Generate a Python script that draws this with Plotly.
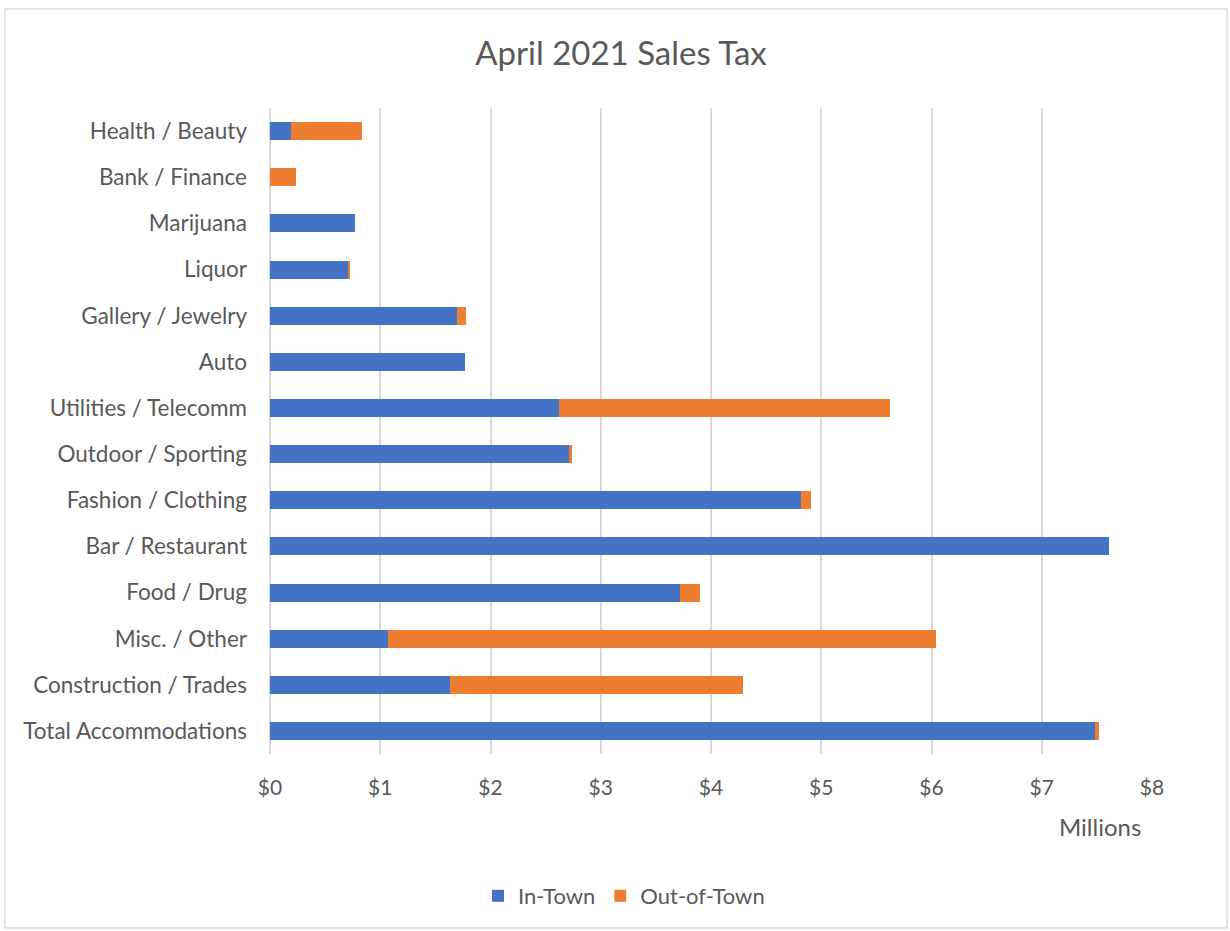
import plotly.graph_objects as go

categories = ["Health / Beauty", "Bank / Finance", "Marijuana", "Liquor", "Gallery / Jewelry",
              "Auto", "Utilities / Telecomm", "Outdoor / Sporting", "Fashion / Clothing",
              "Bar / Restaurant", "Food / Drug", "Misc. / Other", "Construction / Trades",
              "Total Accommodations"]
in_town = [0.186, 0.0, 0.77, 0.716, 1.693, 1.77, 2.62, 2.71, 4.82, 7.61, 3.72, 1.07, 1.63, 7.48]
out_town = [0.644, 0.232, 0.0, 0.014, 0.082, 0.0, 3.0, 0.03, 0.09, 0.0, 0.18, 4.97, 2.66, 0.035]
tick_vals = [0, 1, 2, 3, 4, 5, 6, 7, 8]
tick_text = ["$0", "$1", "$2", "$3", "$4", "$5", "$6", "$7", "$8"]

FONT = "Lato, 'Open Sans', sans-serif"
GRAY = "#595959"

fig = go.Figure()
fig.add_trace(go.Bar(y=categories, x=in_town, name="In-Town", orientation="h",
                     marker=dict(color="#4472C4", line=dict(width=0))))
fig.add_trace(go.Bar(y=categories, x=out_town, name="Out-of-Town", orientation="h",
                     marker=dict(color="#ED7D31", line=dict(width=0))))

L, R, T, B = 270, 1152, 108, 754
W, H = 1230, 931
pw, ph = R - L, B - T

def px(x):
    return (x - L) / pw

def py(y):
    return (B - y) / ph

fig.update_layout(
    width=W, height=H,
    margin=dict(l=L, r=W - R, t=T, b=H - B),
    barmode="stack",
    bargap=0.61,
    plot_bgcolor="white",
    paper_bgcolor="white",
    font=dict(family=FONT, color=GRAY, size=22),
    title=dict(text="April 2021 Sales Tax", x=621 / W, xanchor="center",
               y=1 - 53 / H, yanchor="middle",
               font=dict(family=FONT, size=33, color=GRAY)),
    xaxis=dict(range=[0, 8], tickvals=tick_vals, ticktext=tick_text,
               showgrid=True, gridcolor="#d9d9d9", gridwidth=1.5,
               zeroline=True, zerolinecolor="#d9d9d9", zerolinewidth=1.5,
               showline=False, ticks="", ticklabelstandoff=19,
               tickfont=dict(size=21, color=GRAY, family=FONT), fixedrange=True),
    yaxis=dict(autorange="reversed", showgrid=False, showline=False, ticks="",
               ticklabelstandoff=22,
               tickfont=dict(size=22.5, color=GRAY, family=FONT)),
    legend=dict(orientation="h", x=px(624), xanchor="center", y=py(896), yanchor="middle",
                font=dict(size=22, color=GRAY, family=FONT), traceorder="normal",
                itemwidth=30),
    annotations=[dict(text="Millions", xref="paper", yref="paper", x=px(1100), y=py(826),
                      xanchor="center", yanchor="middle", showarrow=False,
                      font=dict(size=24, color=GRAY, family=FONT))],
    shapes=[dict(type="rect", xref="paper", yref="paper",
                 x0=px(5), x1=px(1227), y0=py(928), y1=py(9),
                 line=dict(color="#d9d9d9", width=1.5), fillcolor="rgba(0,0,0,0)",
                 layer="below")],
)

fig.write_html("out.html")
